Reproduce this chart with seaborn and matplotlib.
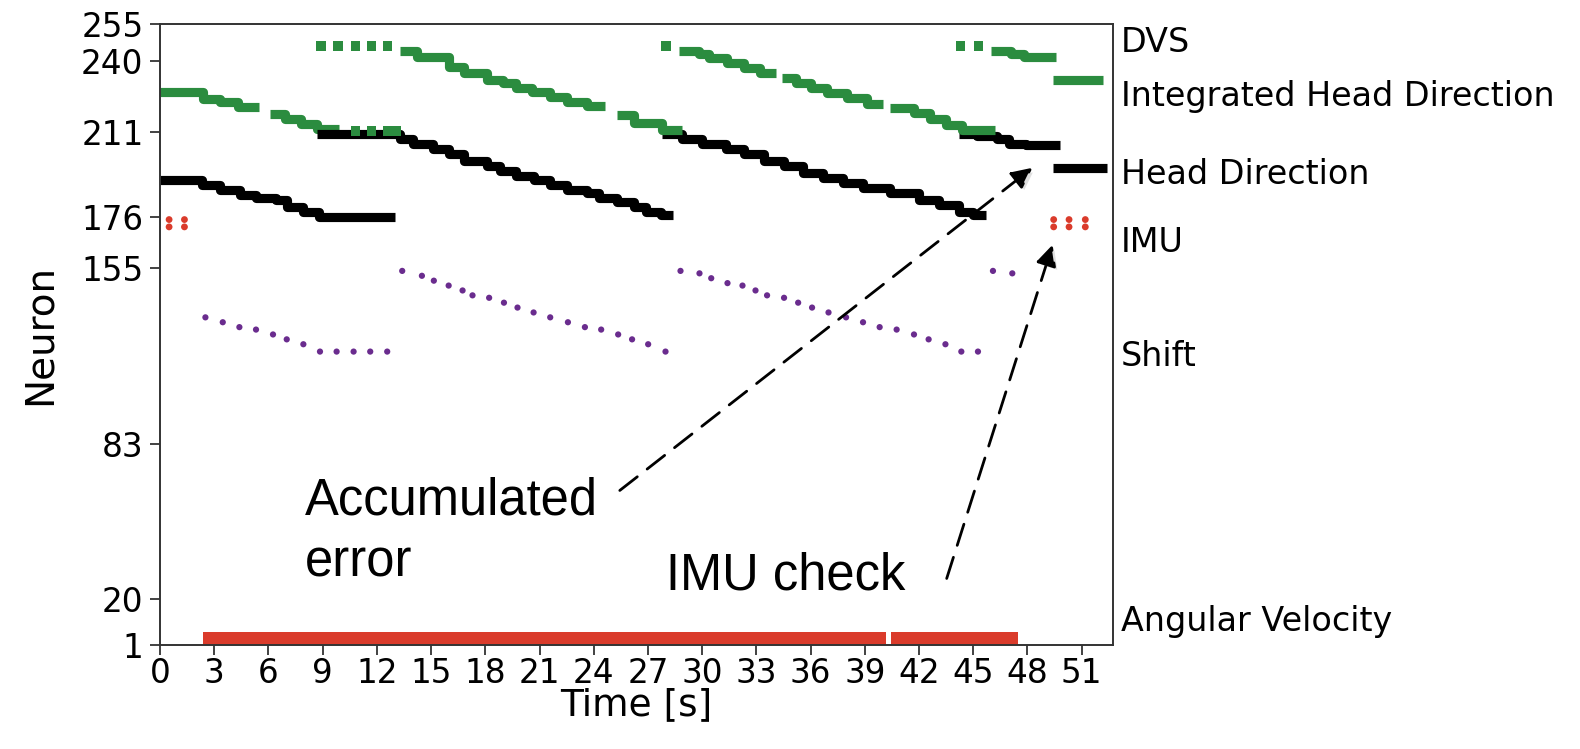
import matplotlib
matplotlib.use("Agg")
import matplotlib.pyplot as plt
import matplotlib.patheffects as pe
from matplotlib.transforms import blended_transform_factory
import seaborn as sns

# ---------------- data ----------------
# Head Direction (black) staircase runs: plateau start times, neuron, end time
hd_a_t = [0.0, 2.3, 3.3, 4.4, 5.3, 6.4, 7.0, 7.9, 8.8]
hd_a_n = [191, 189, 187, 185, 184, 183, 180, 178, 176]
hd_a_end = 13.0
hd_b_t = [8.7, 13.3, 14.0, 15.1, 16.0, 16.8, 18.1, 18.8, 19.7, 20.7, 21.6, 22.5, 23.6, 24.3, 25.3, 26.2, 26.9, 27.7]
hd_b_n = [210, 208, 206, 204, 202, 199, 197, 195, 193, 191, 189, 187, 186, 184, 182, 180, 178, 177]
hd_b_end = 28.4
hd_c_t = [27.8, 28.9, 30.0, 31.3, 32.3, 33.4, 34.5, 35.6, 36.7, 37.8, 38.9, 40.4, 42.0, 43.1, 44.2, 45.0]
hd_c_n = [210, 208, 206, 204, 202, 199, 197, 194, 192, 190, 188, 186, 183, 181, 178, 177]
hd_c_end = 45.7
hd_d_t = [44.2, 45.2, 46.3, 47.0, 47.9]
hd_d_n = [210, 209, 208, 206, 205.5]
hd_d_end = 49.8
hd_e_t = [49.4]
hd_e_n = [196]
hd_e_end = 52.4

# Integrated Head Direction (green) staircase runs
ihd_a_t = [0.0, 2.4, 3.3, 4.3]
ihd_a_n = [227, 224.5, 223, 221]
ihd_a_end = 5.5
ihd_b_t = [6.1, 6.9, 7.8, 8.7]
ihd_b_n = [218, 216, 214, 212]
ihd_b_end = 9.9
ihd_c_t = [13.3, 14.2, 16.0, 16.8, 18.1, 19.0, 19.7, 20.6, 21.6, 22.5, 23.6]
ihd_c_n = [244, 241.5, 237.5, 235, 232, 231, 228.7, 227, 225.3, 223.2, 221.5]
ihd_c_end = 24.6
ihd_d_t = [25.3, 26.2, 27.8]
ihd_d_n = [217.8, 214.4, 211.7]
ihd_d_end = 28.9
ihd_e_t = [28.7, 29.8, 30.4, 31.4, 32.3, 33.2]
ihd_e_n = [244, 242.7, 241, 239.2, 236.9, 234.8]
ihd_e_end = 34.1
ihd_f_t = [34.4, 35.2, 36.0, 36.9, 38.0, 39.1]
ihd_f_n = [232.8, 231, 228.7, 226.9, 224.6, 222.3]
ihd_f_end = 40.0
ihd_g_t = [40.4, 41.7, 42.6, 43.5, 44.4]
ihd_g_n = [220.5, 218.5, 216.1, 213.7, 211.7]
ihd_g_end = 46.2
ihd_h_t = [46.0, 47.1, 47.8]
ihd_h_n = [244, 242.7, 241.5]
ihd_h_end = 49.6
ihd_i_t = [49.4]
ihd_i_n = [232]
ihd_i_end = 52.2

# isolated green spikes
green_dot_t = [8.9, 9.85, 10.8, 11.7, 12.6, 10.8, 11.7, 12.6, 13.1, 28.0, 44.3, 45.3]
green_dot_n = [246, 246, 246, 246, 246, 211.3, 211.3, 211.3, 211.3, 246, 246, 246]

# IMU (red) spikes
imu_t = [0.5, 0.5, 1.35, 1.35, 49.45, 49.45, 50.3, 50.3, 51.2, 51.2]
imu_n = [175, 172, 175, 172, 175, 172, 175, 172, 175, 172]

# Shift (purple) spikes
shift_t = [2.51, 3.47, 4.39, 5.31, 6.25, 7.01, 7.93, 8.85, 9.77, 10.71, 11.63, 12.57,
           13.40, 14.49, 15.15, 15.97, 16.74, 17.29, 18.21, 19.03, 19.78, 20.67, 21.59,
           22.57, 23.51, 24.41, 25.35, 26.12, 27.01, 27.97,
           28.80, 29.85, 30.50, 31.40, 32.23, 32.95, 33.59, 34.53, 35.31, 36.08, 36.99,
           37.96, 38.90, 39.82, 40.76, 41.72, 42.53, 43.46, 44.34, 45.26,
           46.09, 47.16]
shift_n = [135, 133, 131, 130, 128, 126, 124, 121, 121, 121, 121, 121,
           154, 152, 150, 148, 146, 144, 143, 141, 139, 137, 135,
           133, 131, 130, 128, 126, 124, 121,
           154, 153, 151, 149, 148, 146, 144, 143, 141, 139, 137,
           135, 133, 131, 130, 128, 126, 124, 121, 121,
           154, 153]

# Angular velocity (red) dense band
av_start = [2.4, 40.45]
av_end = [40.17, 47.45]
av_low = 1
av_high = 6.5

# axis ticks and population labels
x_ticks = list(range(0, 52, 3))
y_ticks = [1, 20, 83, 155, 176, 211, 240, 255]
pop_labels = ["DVS", "Integrated Head Direction", "Head Direction", "IMU", "Shift", "Angular Velocity"]
pop_label_y = [247.5, 225.5, 193.5, 165.5, 119, 10.5]

GREEN = "#2B8C3F"
BLACK = "#000000"
RED = "#DA3B2B"
PURPLE = "#6A2C8E"

# ---------------- figure ----------------
sns.set_style("ticks")
plt.rcParams["font.family"] = ["DejaVu Sans"]
for key in ["text.color", "axes.labelcolor", "xtick.color", "ytick.color"]:
    plt.rcParams[key] = "black"

fig = plt.figure(figsize=(15.8, 7.49), dpi=100)
ax = fig.add_axes([0.1013, 0.1389, 0.6031, 0.8291])


def steps(ts, ns, t_end, color, lw=6.6):
    x = list(ts) + [t_end]
    y = list(ns) + [ns[-1]]
    sns.lineplot(x=x, y=y, drawstyle="steps-post", color=color, linewidth=lw,
                 estimator=None, sort=False, ax=ax, solid_capstyle="butt")


for ts, ns, te in [(ihd_a_t, ihd_a_n, ihd_a_end), (ihd_b_t, ihd_b_n, ihd_b_end)]:
    steps(ts, ns, te, GREEN)

for ts, ns, te in [(hd_a_t, hd_a_n, hd_a_end), (hd_b_t, hd_b_n, hd_b_end),
                   (hd_c_t, hd_c_n, hd_c_end), (hd_d_t, hd_d_n, hd_d_end),
                   (hd_e_t, hd_e_n, hd_e_end)]:
    steps(ts, ns, te, BLACK)

for ts, ns, te in [(ihd_c_t, ihd_c_n, ihd_c_end), (ihd_d_t, ihd_d_n, ihd_d_end),
                   (ihd_e_t, ihd_e_n, ihd_e_end), (ihd_f_t, ihd_f_n, ihd_f_end),
                   (ihd_g_t, ihd_g_n, ihd_g_end), (ihd_h_t, ihd_h_n, ihd_h_end),
                   (ihd_i_t, ihd_i_n, ihd_i_end)]:
    steps(ts, ns, te, GREEN)

sns.scatterplot(x=green_dot_t, y=green_dot_n, marker="s", s=46, color=GREEN,
                edgecolor="none", linewidth=0, ax=ax, zorder=3)
sns.scatterplot(x=imu_t, y=imu_n, marker="o", s=24, color=RED,
                edgecolor="none", linewidth=0, ax=ax, zorder=3)
sns.scatterplot(x=shift_t, y=shift_n, marker="o", s=20, color=PURPLE,
                edgecolor="none", linewidth=0, ax=ax, zorder=3)

ax.broken_barh([(s, e - s) for s, e in zip(av_start, av_end)],
               (av_low, av_high - av_low), facecolors=RED, edgecolor="none", zorder=2)

ax.set_xlim(0, 52.73)
ax.set_ylim(1, 255)
ax.set_xticks(x_ticks)
ax.set_yticks(y_ticks)
ax.tick_params(axis="both", labelsize=23.5, length=7, width=1.3, color="#333333")
ax.tick_params(axis="x", pad=1.5)
ax.tick_params(axis="y", pad=5)
for sp in ax.spines.values():
    sp.set_linewidth(1.4)
    sp.set_color("#333333")

ax.set_xlabel("Time [s]", fontsize=27, labelpad=-2)
ax.set_ylabel("Neuron", fontsize=28, labelpad=16)

trans = blended_transform_factory(ax.transAxes, ax.transData)
for lab, yy in zip(pop_labels, pop_label_y):
    ax.text(1.008, yy, lab, transform=trans, ha="left", va="center", fontsize=24)

# annotations
shadow = [pe.withSimplePatchShadow(offset=(2, -2), shadow_rgbFace="0.5", alpha=0.25)]
arrow_kw = dict(arrowstyle="-|>,head_length=0.45,head_width=0.22", color="black",
                lw=2.0, linestyle=(0, (8, 4.5)), mutation_scale=28,
                shrinkA=0, shrinkB=0, path_effects=shadow)
ax.annotate("", xy=(48.28, 196.2), xytext=(25.44, 64.2), arrowprops=arrow_kw)
ax.annotate("", xy=(49.39, 164.7), xytext=(43.53, 28.2), arrowprops=arrow_kw)

afont = dict(family=["Liberation Sans", "DejaVu Sans"], fontsize=36.5, color="black")
ax.text(8.0, 54.5, "Accumulated", ha="left", va="baseline", **afont)
ax.text(8.0, 29.2, "error", ha="left", va="baseline", **afont)
ax.text(28.0, 23.7, "IMU check", ha="left", va="baseline", **afont)

fig.savefig("out.png", dpi=100)
